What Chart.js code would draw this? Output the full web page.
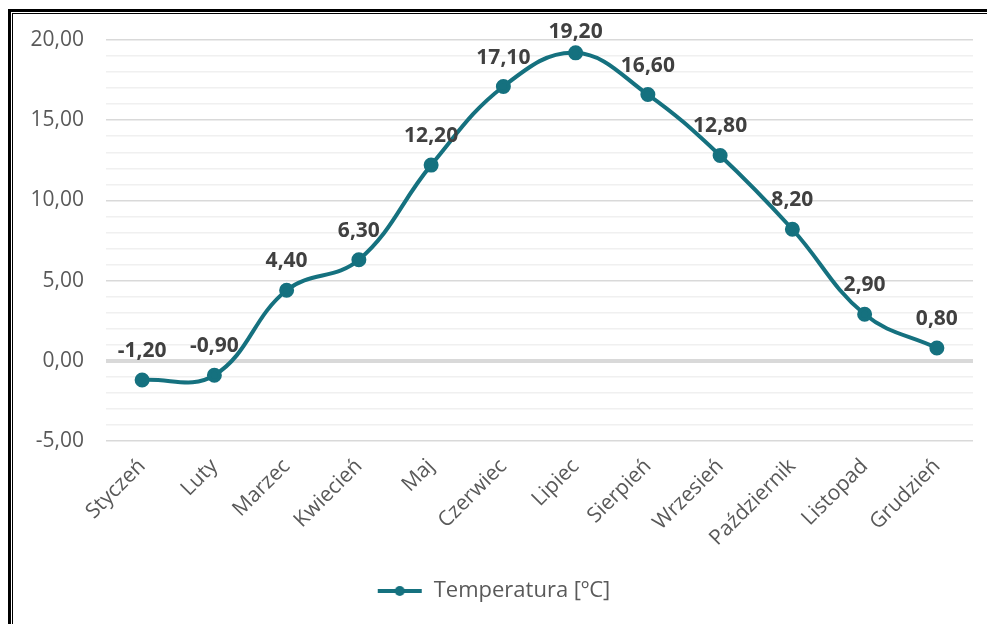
<!DOCTYPE html>
<html>
<head>
<meta charset="utf-8">
<script src="https://cdn.jsdelivr.net/npm/chart.js@4.4.1/dist/chart.umd.min.js"></script>
<style>
    html, body { margin: 0; padding: 0; background: #fff; }
    #wrap { position: relative; width: 987px; height: 624px; }
    #chart { position: absolute; left: 0; top: 0; }
    .frame1 { position: absolute; left: 8px; top: 9px; right: -10px; bottom: -10px; border-left: 3px solid #000; border-top: 3px solid #000; }
    .frame2 { position: absolute; left: 12px; top: 13px; right: -10px; bottom: -10px; border-left: 1px solid #000; border-top: 1px solid #000; }
</style>
</head>
<body>
<div id="wrap">
    <canvas id="chart" width="987" height="624"></canvas>
    <div class="frame1"></div>
    <div class="frame2"></div>
</div>
<script>
var months = ["Styczeń", "Luty", "Marzec", "Kwiecień", "Maj", "Czerwiec", "Lipiec", "Sierpień", "Wrzesień", "Październik", "Listopad", "Grudzień"];
var temps = [-1.2, -0.9, 4.4, 6.3, 12.2, 17.1, 19.2, 16.6, 12.8, 8.2, 2.9, 0.8];
var seriesName = "Temperatura [ºC]";
var lineColor = "#15717f";

function fmt(v) {
    return v.toFixed(2).replace('.', ',');
}

// legend marker: short line with a dot
var marker = document.createElement('canvas');
marker.width = 46; marker.height = 12;
(function () {
    var c = marker.getContext('2d');
    c.strokeStyle = lineColor;
    c.lineWidth = 4;
    c.beginPath(); c.moveTo(1, 6); c.lineTo(45, 6); c.stroke();
    c.fillStyle = lineColor;
    c.beginPath(); c.arc(23, 6, 5, 0, Math.PI * 2); c.fill();
})();

var valueLabels = {
    id: 'valueLabels',
    afterDatasetsDraw: function (chart) {
        var ctx = chart.ctx;
        var meta = chart.getDatasetMeta(0);
        ctx.save();
        ctx.font = "bold 21px 'Open Sans'";
        ctx.fillStyle = "#404040";
        ctx.textAlign = "center";
        ctx.textBaseline = "middle";
        meta.data.forEach(function (pt, i) {
            // keep the top label inside the frame, like the original
            ctx.fillText(fmt(temps[i]), pt.x, Math.max(pt.y - 29, 32));
        });
        ctx.restore();
    }
};

var ctx = document.getElementById("chart").getContext("2d");
new Chart(ctx, {
    type: 'line',
    data: {
        labels: months,
        datasets: [{
            label: seriesName,
            data: temps,
            borderColor: lineColor,
            backgroundColor: lineColor,
            borderWidth: 4,
            pointRadius: 5.5,
            pointBackgroundColor: lineColor,
            pointBorderColor: lineColor,
            tension: 0.4,
            fill: false
        }]
    },
    options: {
        responsive: false,
        animation: false,
        layout: { padding: { left: 14, right: 14, top: 40, bottom: 12 } },
        plugins: {
            tooltip: { enabled: false },
            legend: {
                position: 'bottom',
                labels: {
                    usePointStyle: true,
                    pointStyleWidth: 46,
                    padding: 8,
                    color: "#595959",
                    font: { family: "'Open Sans'", size: 22 },
                    generateLabels: function (chart) {
                        return [{ text: seriesName, pointStyle: marker, fontColor: "#595959", lineWidth: 0, datasetIndex: 0 }];
                    }
                }
            }
        },
        scales: {
            x: {
                offset: true,
                grid: { display: false },
                border: { display: false },
                ticks: {
                    color: "#595959",
                    font: { family: "'Open Sans'", size: 21 },
                    minRotation: 45,
                    maxRotation: 45,
                    autoSkip: false,
                    padding: 5
                },
                afterFit: function (scale) { scale.height = 131; }
            },
            y: {
                min: -5,
                max: 20,
                border: { display: false },
                grid: {
                    drawTicks: false,
                    color: function (c) {
                        var v = c.tick.value;
                        return (v % 5 === 0) ? "#d9d9d9" : "#f0f0f0";
                    },
                    lineWidth: function (c) {
                        return c.tick.value === 0 ? 4 : 1.5;
                    }
                },
                ticks: {
                    stepSize: 1,
                    maxTicksLimit: 40,
                    autoSkip: false,
                    padding: 22,
                    color: "#595959",
                    font: { family: "'Open Sans'", size: 21 },
                    callback: function (v) { return v % 5 === 0 ? fmt(v) : ''; }
                },
                afterFit: function (scale) { scale.width = 92; }
            }
        }
    },
    plugins: [valueLabels]
});
</script>
</body>
</html>
